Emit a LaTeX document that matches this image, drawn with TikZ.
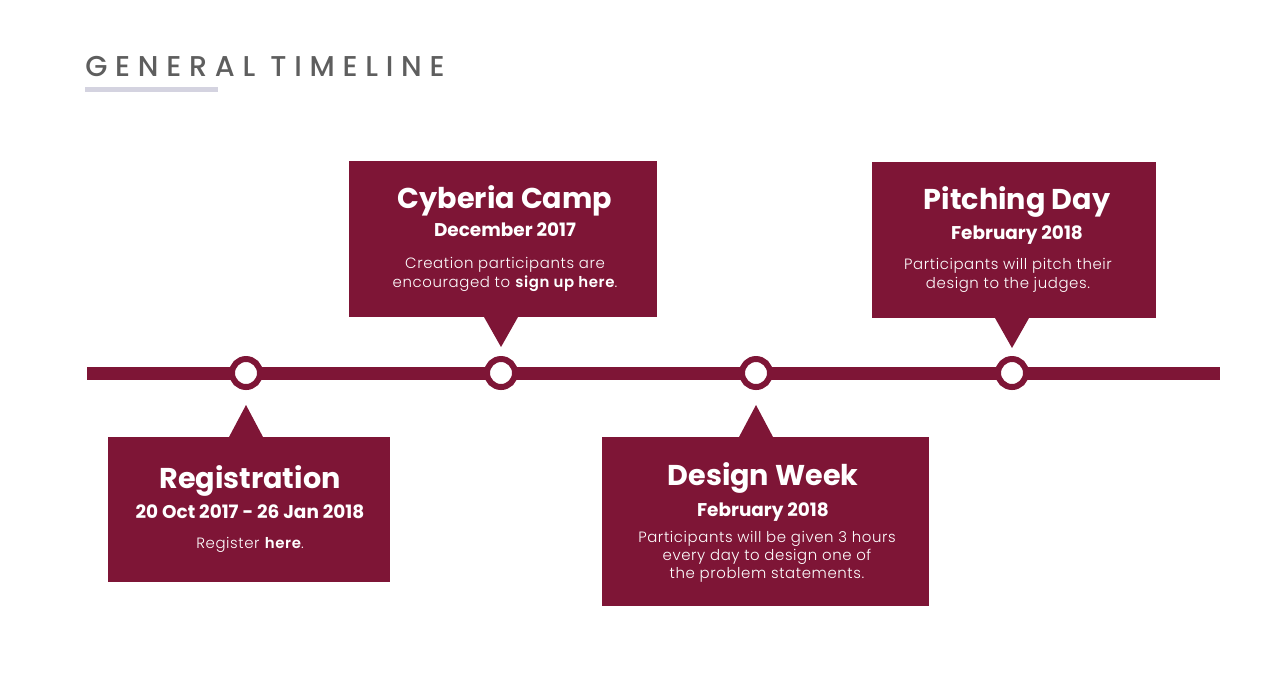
\documentclass[tikz,border=0pt]{standalone}
\usepackage{fontspec}
\setmainfont{Poppins}
\newfontfamily\thinfont{Poppins Light}[BoldFont=Poppins SemiBold, LetterSpace=4]
\newfontfamily\headfont{Poppins Medium}[LetterSpace=27]
\usetikzlibrary{positioning}
\definecolor{wine}{HTML}{7E1536}
\definecolor{slate}{HTML}{5E5E5E}
\definecolor{lilac}{HTML}{D4D3E0}
\tikzset{
  box/.style 2 args={rectangle, fill=wine, inner sep=0pt, anchor=north west,
    minimum width=#1, minimum height=#2},
  stop/.style={circle, fill=white, draw=wine, line width=0.12cm, minimum size=0.56cm, inner sep=0pt},
  ttl/.style={font=\bfseries\fontsize{16.3}{20}\selectfont, text=white, anchor=base, inner sep=0pt},
  dte/.style={font=\bfseries\fontsize{10.5}{12}\selectfont, text=white, anchor=base, inner sep=0pt},
  txt/.style={font=\thinfont\fontsize{8.5}{10.8}\selectfont, text=white, anchor=base, inner sep=0pt, align=center},
  tip/.style={fill=wine}
}
\begin{document}
\begin{tikzpicture}[x=0.02cm, y=-0.02cm]
  \useasboundingbox (0,0) rectangle (1280,681);
  % heading
  \node[anchor=base west, inner sep=0pt, text=slate, font=\headfont\fontsize{16.3}{18}\selectfont] (head) at (85,76) {GENERAL TIMELINE};
  \fill[lilac] (85,87) rectangle (218,92);
  % line
  \coordinate (ls) at (87,373);
  \coordinate (le) at (1220,373);
  \draw[wine, line width=0.26cm] (ls) -- (le);
  \node[stop] (m1) at (246,373) {};
  \node[stop] (m2) at (501,373) {};
  \node[stop] (m3) at (756,373) {};
  \node[stop] (m4) at (1012,373) {};
  % boxes
  \node[box={5.64cm}{2.90cm}] (reg) at (108,437) {};
  \node[box={6.16cm}{3.12cm}] (camp) at (349,161) {};
  \node[box={6.54cm}{3.38cm}] (week) at (602,437) {};
  \node[box={5.68cm}{3.12cm}] (pitch) at (872,162) {};
  % pointers
  \coordinate (p1) at (246,405);
  \coordinate (p2) at (501,347);
  \coordinate (p3) at (756,405);
  \coordinate (p4) at (1012,348);
  \fill[tip] (229,437) -- (p1) -- (263,437) -- cycle;
  \fill[tip] (484,317) -- (p2) -- (518,317) -- cycle;
  \fill[tip] (739,437) -- (p3) -- (773,437) -- cycle;
  \fill[tip] (995,318) -- (p4) -- (1029,318) -- cycle;
  % texts (multi-line nodes sit on their last baseline)
  \node[ttl] (reg-t) at (250,488) {Registration};
  \node[dte] (reg-d) at (250,518) {20 Oct 2017 - 26 Jan 2018};
  \node[txt] (reg-b) at (250,548) {Register \textbf{here}.};
  \node[ttl] (camp-t) at (505,208) {Cyberia Camp};
  \node[dte] (camp-d) at (505,236) {December 2017};
  \node[txt] (camp-b) at (505,287) {Creation participants are\\encouraged to \textbf{sign up here}.};
  \node[ttl] (week-t) at (763,485) {Design Week};
  \node[dte] (week-d) at (763,516) {February 2018};
  \node[txt, font=\thinfont\fontsize{8.5}{10.2}\selectfont] (week-b) at (767,578) {Participants will be given 3 hours\\every day to design one of\\the problem statements.};
  \node[ttl] (pitch-t) at (1017,209) {Pitching Day};
  \node[dte] (pitch-d) at (1017,239) {February 2018};
  \node[txt] (pitch-b) at (1008,288) {Participants will pitch their\\design to the judges.};
\end{tikzpicture}
\end{document}
